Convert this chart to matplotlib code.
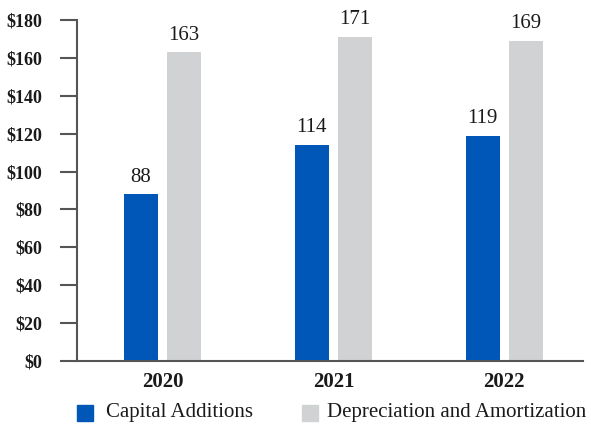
import matplotlib
matplotlib.use("Agg")
import matplotlib.pyplot as plt
import numpy as np
from matplotlib.patches import Rectangle

years = ["2020", "2021", "2022"]
capital_additions = [88, 114, 119]
depreciation = [163, 171, 169]
series_names = ["Capital Additions", "Depreciation and Amortization"]
yticks = [0, 20, 40, 60, 80, 100, 120, 140, 160, 180]
ytick_labels = ["$" + str(v) for v in yticks]

blue = "#0057B8"
gray = "#D1D2D4"
spine = "#555555"
txt = "#1a1a1a"

plt.rcParams['font.family'] = ['Liberation Serif', 'DejaVu Serif']

W, H = 591, 424
fig = plt.figure(figsize=(W/100, H/100), dpi=100)
ax = fig.add_axes([77/W, 1-361/H, (583-77)/W, (361-20)/H])

x = np.arange(len(years))
w = 0.2
off = 0.126
b1 = ax.bar(x - off, capital_additions, w, color=blue)
b2 = ax.bar(x + off, depreciation, w, color=gray)

for bars, vals in ((b1, capital_additions), (b2, depreciation)):
    for r, v in zip(bars, vals):
        ax.text(r.get_x() + r.get_width()/2, v + 4, str(v), ha='center', va='bottom',
                fontsize=15, color=txt)

ax.set_xlim(-0.5, 2.46)
ax.set_ylim(0, 180)
ax.set_yticks(yticks)
ax.set_yticklabels(ytick_labels, fontsize=13, fontweight='bold', color=txt)
ax.set_xticks(x)
ax.set_xticklabels(years, fontsize=15, fontweight='bold', color=txt)
ax.tick_params(axis='y', length=12, width=1.5, color=spine, pad=13)
ax.tick_params(axis='x', length=0, pad=8)
for s in ['top', 'right']:
    ax.spines[s].set_visible(False)
for s in ['left', 'bottom']:
    ax.spines[s].set_color(spine)
    ax.spines[s].set_linewidth(1.5)

# legend
colors = [blue, gray]
sq_x = [77, 302]
txt_x = [106, 327]
for c, sx, tx, name in zip(colors, sq_x, txt_x, series_names):
    fig.patches.append(Rectangle((sx/W, 1-421/H), 16/W, 16/H, transform=fig.transFigure,
                                 color=c, figure=fig))
    fig.text(tx/W, 1-413/H, name, ha='left', va='center', fontsize=15, color=txt)

fig.savefig("out.png", dpi=100)
